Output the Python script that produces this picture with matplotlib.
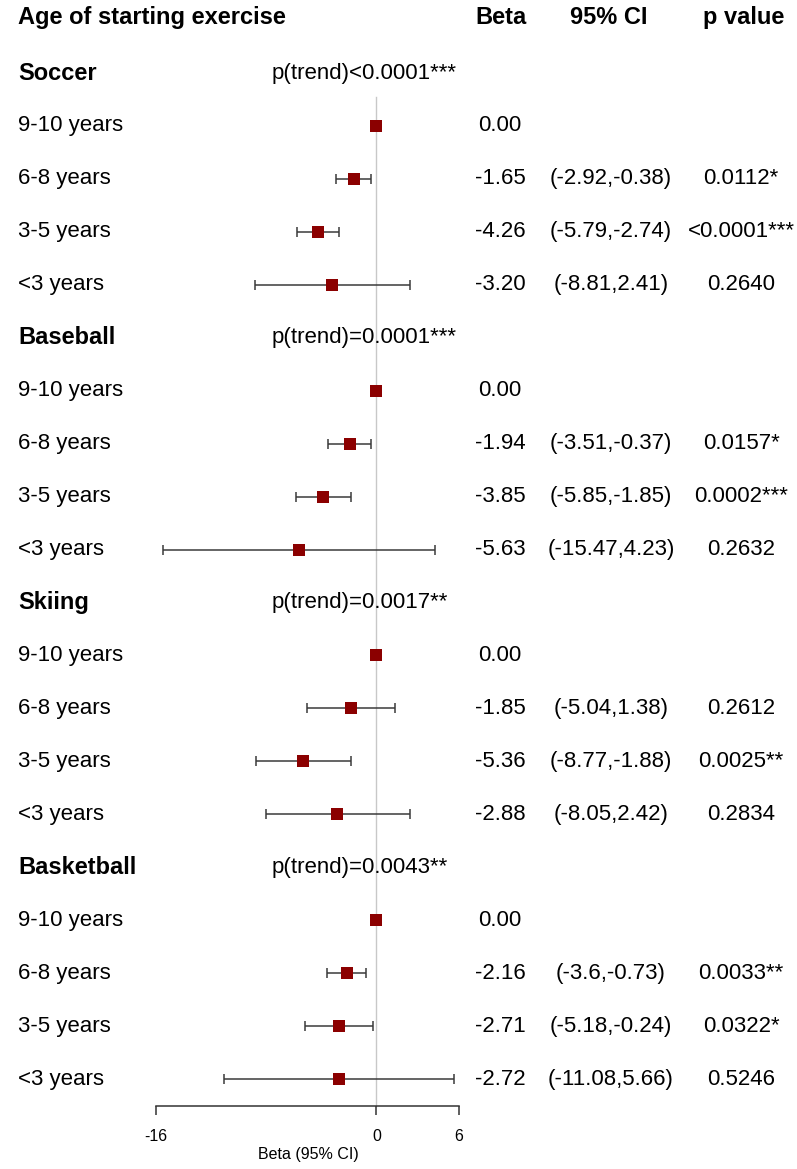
import numpy as np
import matplotlib
matplotlib.use('Agg')
import matplotlib.pyplot as plt

plt.rcParams['font.family'] = ['Liberation Sans', 'DejaVu Sans']

# --- data ---
sports = ['Soccer', 'Baseball', 'Skiing', 'Basketball']
ages = ['9-10 years', '6-8 years', '3-5 years', '<3 years']
trend = ['p(trend)<0.0001***', 'p(trend)=0.0001***',
         'p(trend)=0.0017**', 'p(trend)=0.0043**']

soccer_beta = [0.00, -1.65, -4.26, -3.20]
soccer_lo = [np.nan, -2.92, -5.79, -8.81]
soccer_hi = [np.nan, -0.38, -2.74, 2.41]
soccer_p = ['', '0.0112*', '<0.0001***', '0.2640']

baseball_beta = [0.00, -1.94, -3.85, -5.63]
baseball_lo = [np.nan, -3.51, -5.85, -15.47]
baseball_hi = [np.nan, -0.37, -1.85, 4.23]
baseball_p = ['', '0.0157*', '0.0002***', '0.2632']

skiing_beta = [0.00, -1.85, -5.36, -2.88]
skiing_lo = [np.nan, -5.04, -8.77, -8.05]
skiing_hi = [np.nan, 1.38, -1.88, 2.42]
skiing_p = ['', '0.2612', '0.0025**', '0.2834']

basketball_beta = [0.00, -2.16, -2.71, -2.72]
basketball_lo = [np.nan, -3.60, -5.18, -11.08]
basketball_hi = [np.nan, -0.73, -0.24, 5.66]
basketball_p = ['', '0.0033**', '0.0322*', '0.5246']

xticks = [-16, 0, 6]

groups = [
    (soccer_beta, soccer_lo, soccer_hi, soccer_p),
    (baseball_beta, baseball_lo, baseball_hi, baseball_p),
    (skiing_beta, skiing_lo, skiing_hi, skiing_p),
    (basketball_beta, basketball_lo, basketball_hi, basketball_p),
]

# --- layout helpers (pixel -> data) ---
W, H = 797, 1169
x0_px, ppu = 376.4, 13.77      # pixel of beta=0, pixels per beta unit
y0_px, ppr = 73, 52.95         # pixel of first row, pixels per row


def px(p):
    return (p - x0_px) / ppu


fig = plt.figure(figsize=(W / 100, H / 100), dpi=100)
ax = fig.add_axes([0, 0, 1, 1])
ax.set_xlim(px(0), px(W))
ax.set_ylim((H - y0_px) / ppr, -y0_px / ppr)

fs = 16
fsb = 17
red = '#8B0000'

# header
hy = -1.04
ax.text(px(18), hy, 'Age of starting exercise', fontsize=fsb, fontweight='bold', va='center', ha='left')
ax.text(px(501), hy, 'Beta', fontsize=fsb, fontweight='bold', va='center', ha='center')
ax.text(px(609), hy, '95% CI', fontsize=fsb, fontweight='bold', va='center', ha='center')
ax.text(px(744), hy, 'p value', fontsize=fsb, fontweight='bold', va='center', ha='center')

axis_y = (1106 - y0_px) / ppr

row = 0
for g, (name, tr, (b, lo, hi, p)) in enumerate(zip(sports, trend, groups)):
    ax.text(px(18), row, name, fontsize=fsb, fontweight='bold', va='center', ha='left')
    ax.text(px(272), row, tr, fontsize=fs, va='center', ha='left')
    rows = np.arange(row + 1, row + 5)
    b = np.array(b)
    lo = np.array(lo)
    hi = np.array(hi)
    ok = ~np.isnan(lo)
    ax.errorbar(b[ok], rows[ok], xerr=[b[ok] - lo[ok], hi[ok] - b[ok]], fmt='none',
                ecolor='#3a3a3a', elinewidth=1.1, capsize=3.6, capthick=1.1, zorder=2)
    ax.plot(b, rows, 's', color=red, markersize=8.8, markeredgewidth=0, zorder=3)
    for i, r in enumerate(rows):
        ax.text(px(18), r, ages[i], fontsize=fs, va='center', ha='left')
        ax.text(px(500), r, f'{b[i]:.2f}', fontsize=fs, va='center', ha='center')
        if ok[i]:
            ax.text(px(611), r, f'({lo[i]:g},{hi[i]:g})', fontsize=fs, va='center', ha='center')
        ax.text(px(741), r, p[i], fontsize=fs, va='center', ha='center')
    row += 5

# reference line at 0
ax.plot([0, 0], [(97 - y0_px) / ppr, axis_y], color='#c8c8c8', lw=1.0, zorder=1)

# x axis
for s in ['top', 'left', 'right']:
    ax.spines[s].set_visible(False)
ax.spines['bottom'].set_position(('data', axis_y))
ax.spines['bottom'].set_bounds(-16, 6)
ax.spines['bottom'].set_color('#333333')
ax.spines['bottom'].set_linewidth(1.1)
ax.set_xticks(xticks)
ax.set_xticklabels([str(t) for t in xticks])
ax.tick_params(axis='x', direction='out', length=6.5, width=1.1, color='#333333',
               labelsize=11.5, pad=10)
ax.set_yticks([])
ax.text(px(308), (1155 - y0_px) / ppr, 'Beta (95% CI)', fontsize=11.5, va='center', ha='center')

fig.savefig('out.png', dpi=100)
